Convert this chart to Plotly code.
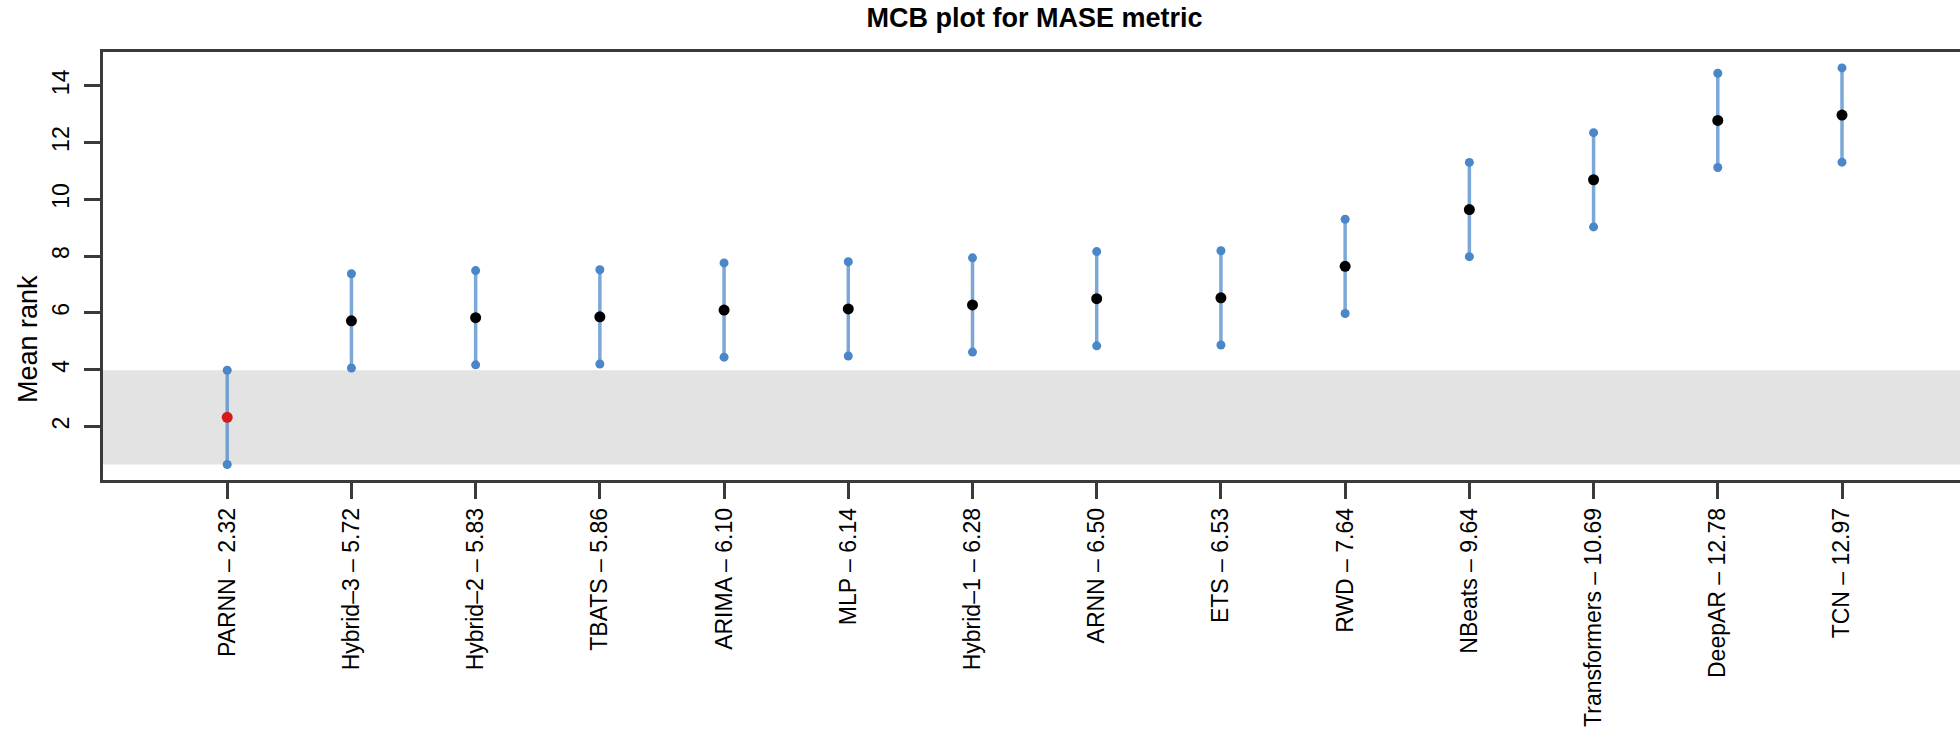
import plotly.graph_objects as go

# Methods ordered by mean rank (MASE)
methods = ["PARNN", "Hybrid\u20133", "Hybrid\u20132", "TBATS", "ARIMA", "MLP", "Hybrid\u20131",
           "ARNN", "ETS", "RWD", "NBeats", "Transformers", "DeepAR", "TCN"]
mean_rank = [2.32, 5.72, 5.83, 5.86, 6.10, 6.14, 6.28, 6.50, 6.53, 7.64, 9.64, 10.69, 12.78, 12.97]
lower = [0.66, 4.06, 4.17, 4.20, 4.44, 4.48, 4.62, 4.84, 4.87, 5.98, 7.98, 9.03, 11.12, 11.31]
upper = [3.98, 7.38, 7.49, 7.52, 7.76, 7.80, 7.94, 8.16, 8.19, 9.30, 11.30, 12.35, 14.44, 14.63]
y_ticks = [2, 4, 6, 8, 10, 12, 14]

pos = list(range(1, len(methods) + 1))
tick_text = [f"{m} \u2013 {v:.2f}" for m, v in zip(methods, mean_rank)]

FONT = "Liberation Sans, Arial, Helvetica, sans-serif"
BLUE = "#4a86c8"
LINE_BLUE = "rgba(74,134,200,0.72)"
AXIS = "#3a3a3a"

fig = go.Figure()

# interval lines
fig.add_trace(go.Scatter(
    x=pos, y=mean_rank, mode="markers",
    marker=dict(size=1, color="rgba(0,0,0,0)"),
    error_y=dict(type="data", symmetric=False,
                 array=[u - m for u, m in zip(upper, mean_rank)],
                 arrayminus=[m - l for m, l in zip(mean_rank, lower)],
                 width=0, thickness=3.5, color=LINE_BLUE),
    hoverinfo="skip", showlegend=False,
))

# interval end points
fig.add_trace(go.Scatter(
    x=pos + pos, y=lower + upper, mode="markers",
    marker=dict(size=9, color=BLUE, line=dict(width=0)),
    showlegend=False,
))

# mean ranks; best method highlighted
colors = ["#d7191c"] + ["#000000"] * (len(methods) - 1)
fig.add_trace(go.Scatter(
    x=pos, y=mean_rank, mode="markers",
    marker=dict(size=11, color=colors, line=dict(width=0)),
    showlegend=False,
))

# band of the best method's interval
fig.add_shape(type="rect", xref="paper", yref="y", x0=0, x1=1,
              y0=lower[0], y1=upper[0], fillcolor="#e3e3e3",
              line=dict(width=0), layer="below")

fig.add_annotation(text="Mean rank", textangle=-90, showarrow=False,
                   xref="paper", yref="paper", x=-0.0404, y=0.3294,
                   xanchor="center", yanchor="middle",
                   font=dict(family=FONT, size=27, color="#000000"))

fig.update_layout(
    width=1960, height=737,
    margin=dict(l=103, r=0, t=52, b=257),
    paper_bgcolor="white", plot_bgcolor="white",
    title=dict(text="<b>MCB plot for MASE metric</b>", x=0.5278, xanchor="center",
               y=1 - 18 / 737, yanchor="middle",
               font=dict(family=FONT, size=27, color="#000000")),
    font=dict(family=FONT, color="#000000"),
)

fig.update_xaxes(
    range=[0, 14.95], tickmode="array", tickvals=pos, ticktext=tick_text,
    tickangle=-90, tickfont=dict(family=FONT, size=23, color="#000000"),
    ticks="outside", ticklen=16, tickwidth=2.5, tickcolor=AXIS,
    showline=True, linewidth=2.5, linecolor=AXIS, mirror=True,
    showgrid=False, zeroline=False, automargin=False,
)
fig.update_yaxes(
    range=[0.114, 15.19], tickmode="array", tickvals=y_ticks,
    tickangle=-90, tickfont=dict(family=FONT, size=23, color="#000000"),
    ticks="outside", ticklen=16, tickwidth=2.5, tickcolor=AXIS,
    ticklabelstandoff=6,
    showline=True, linewidth=2.5, linecolor=AXIS, mirror=False,
    showgrid=False, zeroline=False, automargin=False,
)

fig.write_html("out.html")
